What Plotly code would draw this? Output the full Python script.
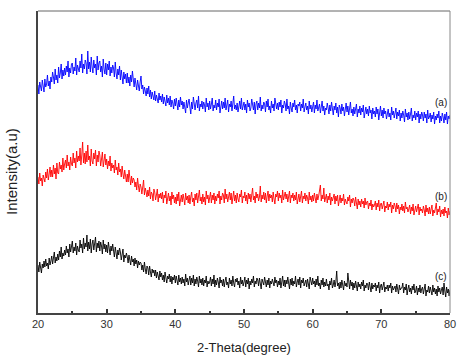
import plotly.graph_objects as go

# 2-theta step (degree) of the recorded patterns, starting at 20 degree
start_deg = 20.0
step_deg = 0.125

# Intensity values (a.u., offset stacking units), 8 per degree
curve_a = [
    228, 219, 231, 224, 222, 233, 226, 221,
    234, 226, 229, 238, 227, 232, 224, 236,
    231, 241, 236, 229, 244, 233, 238, 230,
    246, 235, 240, 249, 234, 243, 237, 245,
    238, 247, 241, 252, 236, 245, 240, 249,
    250, 239, 246, 242, 255, 238, 248, 243,
    241, 252, 245, 259, 240, 249, 244, 253,
    250, 239, 262, 244, 251, 241, 256, 246,
    240, 253, 245, 249, 238, 257, 243, 250,
    252, 241, 247, 236, 254, 244, 239, 250,
    238, 249, 243, 252, 237, 246, 240, 248,
    245, 236, 251, 240, 234, 244, 238, 247,
    233, 243, 237, 229, 241, 234, 239, 230,
    240, 230, 236, 227, 238, 231, 242, 228,
    226, 235, 229, 223, 233, 227, 222, 231,
    237, 224, 228, 219, 226, 222, 217, 225,
    219, 227, 216, 223, 214, 221, 218, 213,
    222, 212, 218, 215, 210, 220, 213, 217,
    211, 219, 209, 216, 212, 207, 218, 210,
    215, 208, 217, 206, 213, 210, 204, 214,
    207, 215, 209, 203, 213, 206, 216, 208,
    212, 204, 211, 207, 200, 213, 205, 210,
    214, 206, 199, 211, 204, 216, 207, 203,
    210, 213, 205, 217, 202, 209, 206, 212,
    204, 211, 208, 201, 215, 206, 210, 203,
    212, 204, 209, 215, 202, 208, 205, 213,
    203, 210, 206, 214, 200, 209, 212, 204,
    211, 205, 215, 203, 208, 213, 201, 209,
    206, 212, 202, 210, 217, 204, 208, 203,
    210, 201, 208, 212, 204, 215, 203, 207,
    211, 203, 209, 200, 213, 206, 210, 202,
    205, 214, 207, 203, 211, 199, 209, 212,
    203, 210, 205, 216, 202, 208, 204, 211,
    209, 201, 212, 206, 214, 203, 207, 200,
    212, 205, 209, 202, 215, 207, 204, 210,
    203, 211, 206, 213, 200, 208, 205, 212,
    209, 202, 214, 204, 207, 199, 211, 205,
    201, 210, 206, 213, 203, 208, 200, 209,
    207, 211, 202, 209, 205, 214, 201, 206,
    210, 203, 207, 199, 212, 204, 208, 201,
    206, 211, 200, 208, 204, 213, 202, 207,
    209, 200, 206, 212, 202, 207, 198, 205,
    203, 210, 205, 199, 208, 202, 211, 204,
    198, 207, 203, 210, 200, 206, 196, 208,
    205, 199, 209, 202, 206, 197, 204, 210,
    201, 207, 198, 205, 211, 200, 204, 197,
    206, 199, 203, 209, 196, 204, 200, 207,
    198, 205, 201, 208, 195, 203, 206, 199,
    204, 197, 207, 200, 203, 194, 205, 199,
    202, 196, 206, 199, 204, 193, 201, 207,
    197, 203, 195, 205, 199, 202, 194, 201,
    204, 196, 200, 193, 206, 198, 202, 195,
    199, 205, 194, 201, 197, 203, 192, 200,
    195, 202, 198, 191, 204, 196, 200, 193,
    201, 194, 199, 205, 192, 198, 195, 202,
    193, 200, 196, 202, 190, 199, 194, 201,
    198, 192, 201, 195, 199, 190, 203, 194,
    196, 200, 191, 198, 194, 201, 189, 197,
    193, 199, 195, 202, 190, 197, 192, 200,
    196, 190, 199, 193, 201, 189, 197, 194,
    198,
]

curve_b = [
    136, 129, 140, 132, 135, 127, 138, 134,
    131, 141, 135, 144, 133, 139, 146, 136,
    143, 136, 148, 139, 145, 134, 150, 140,
    139, 151, 144, 148, 141, 155, 143, 149,
    153, 145, 158, 147, 151, 143, 156, 149,
    147, 160, 150, 155, 145, 162, 151, 157,
    152, 165, 148, 158, 171, 150, 160, 149,
    162, 151, 168, 153, 157, 147, 164, 152,
    149, 160, 154, 163, 147, 158, 151, 162,
    158, 147, 155, 161, 146, 153, 159, 148,
    154, 144, 152, 147, 157, 142, 150, 145,
    148, 140, 153, 143, 146, 138, 150, 141,
    144, 136, 147, 139, 134, 143, 137, 131,
    139, 131, 143, 134, 128, 137, 130, 135,
    133, 126, 131, 123, 135, 127, 121, 129,
    126, 119, 124, 133, 118, 125, 121, 116,
    123, 117, 126, 114, 121, 119, 112, 124,
    121, 113, 118, 124, 111, 119, 115, 120,
    114, 121, 110, 118, 115, 122, 109, 117,
    120, 112, 117, 108, 121, 114, 118, 110,
    116, 109, 119, 112, 121, 107, 115, 118,
    111, 119, 114, 108, 120, 113, 117, 110,
    118, 109, 116, 121, 111, 115, 107, 119,
    113, 120, 110, 117, 123, 112, 116, 109,
    119, 111, 116, 108, 122, 114, 118, 110,
    116, 121, 110, 118, 113, 120, 109, 117,
    112, 119, 115, 122, 109, 117, 113, 120,
    118, 110, 124, 114, 119, 111, 116, 121,
    113, 120, 109, 117, 122, 112, 118, 110,
    120, 114, 111, 119, 116, 123, 110, 117,
    115, 121, 112, 118, 109, 120, 114, 119,
    111, 118, 125, 113, 117, 110, 121, 115,
    119, 112, 116, 127, 111, 118, 114, 121,
    113, 120, 110, 117, 122, 112, 119, 115,
    118, 111, 121, 114, 109, 119, 116, 122,
    112, 120, 115, 118, 110, 123, 113, 117,
    121, 114, 119, 111, 116, 122, 110, 118,
    115, 120, 112, 118, 113, 121, 109, 117,
    119, 111, 116, 122, 110, 117, 114, 120,
    112, 118, 115, 109, 121, 113, 117, 111,
    118, 112, 120, 114, 110, 119, 113, 117,
    121, 128, 112, 118, 114, 125, 111, 116,
    119, 110, 117, 113, 120, 108, 116, 112,
    115, 119, 109, 117, 112, 118, 107, 114,
    118, 110, 115, 112, 119, 108, 114, 111,
    109, 116, 112, 118, 106, 114, 110, 115,
    113, 107, 116, 110, 104, 114, 108, 112,
    106, 114, 109, 112, 105, 115, 108, 111,
    112, 104, 110, 107, 113, 103, 109, 106,
    108, 112, 103, 110, 106, 113, 102, 109,
    110, 104, 108, 112, 101, 107, 105, 111,
    103, 109, 106, 111, 100, 108, 104, 110,
    107, 101, 110, 104, 108, 99, 106, 103,
    109, 102, 107, 100, 111, 104, 106, 101,
    104, 108, 99, 106, 102, 109, 98, 105,
    107, 101, 105, 109, 98, 106, 102, 104,
    100, 107, 103, 97, 108, 101, 105, 99,
    106, 99, 104, 108, 97, 103, 100, 106,
    110, 98, 104, 101, 107, 96, 103, 99,
    104, 97, 106, 100, 102, 95, 105, 98,
    102,
]

curve_c = [
    48, 41, 51, 44, 40, 49, 45, 52,
    46, 54, 47, 50, 44, 55, 48, 52,
    57, 49, 54, 61, 50, 56, 52, 59,
    53, 62, 56, 66, 54, 60, 57, 63,
    58, 67, 60, 64, 56, 69, 61, 65,
    72, 60, 66, 62, 70, 58, 67, 63,
    61, 73, 65, 69, 60, 75, 64, 70,
    66, 78, 62, 71, 64, 74, 60, 69,
    73, 63, 68, 76, 61, 70, 65, 72,
    62, 71, 67, 59, 73, 64, 69, 61,
    68, 60, 71, 63, 58, 67, 62, 69,
    64, 56, 66, 60, 54, 63, 58, 65,
    61, 53, 59, 64, 51, 58, 55, 60,
    56, 50, 58, 52, 48, 57, 51, 54,
    47, 55, 49, 53, 45, 52, 48, 51,
    50, 43, 48, 41, 51, 44, 39, 47,
    45, 38, 47, 41, 36, 44, 40, 43,
    37, 43, 35, 41, 38, 33, 42, 36,
    40, 33, 38, 31, 41, 35, 30, 37,
    34, 39, 31, 37, 29, 36, 33, 38,
    30, 37, 32, 28, 38, 31, 35, 29,
    36, 30, 34, 27, 39, 31, 35, 28,
    33, 37, 28, 35, 30, 38, 27, 34,
    29, 36, 32, 26, 37, 30, 34, 28,
    35, 27, 33, 30, 37, 26, 32, 29,
    31, 36, 27, 34, 29, 38, 26, 33,
    28, 35, 31, 25, 36, 30, 33, 27,
    34, 26, 32, 36, 28, 31, 25, 35,
    29, 33, 27, 37, 30, 26, 34, 31,
    35, 28, 32, 25, 36, 29, 33, 27,
    31, 36, 26, 33, 29, 35, 24, 32,
    28, 34, 30, 37, 26, 32, 29, 35,
    33, 27, 35, 29, 24, 34, 31, 28,
    36, 30, 26, 33, 28, 35, 25, 32,
    29, 34, 31, 27, 36, 30, 33, 26,
    32, 28, 35, 25, 31, 37, 27, 33,
    26, 33, 29, 36, 30, 24, 34, 28,
    35, 27, 32, 29, 37, 26, 31, 34,
    28, 36, 25, 33, 30, 35, 27, 31,
    33, 26, 34, 29, 24, 36, 30, 28,
    35, 29, 32, 26, 34, 28, 37, 27,
    30, 24, 33, 28, 35, 26, 31, 27,
    34, 27, 29, 23, 32, 28, 35, 25,
    28, 33, 26, 31, 42, 27, 30, 24,
    31, 25, 33, 28, 23, 32, 27, 30,
    26, 40, 29, 24, 33, 27, 31, 23,
    30, 25, 32, 27, 22, 31, 26, 29,
    24, 31, 27, 33, 22, 28, 25, 30,
    29, 23, 31, 26, 21, 30, 24, 28,
    26, 30, 22, 28, 25, 31, 20, 27,
    29, 23, 27, 31, 21, 26, 24, 28,
    22, 28, 25, 30, 20, 27, 23, 26,
    27, 21, 29, 24, 19, 28, 23, 25,
    25, 30, 20, 26, 23, 29, 18, 24,
    28, 21, 25, 19, 27, 23, 29, 20,
    22, 27, 18, 25, 21, 28, 20, 24,
    26, 19, 24, 29, 17, 23, 21, 27,
    20, 26, 22, 18, 28, 21, 25, 19,
    24, 17, 27, 21, 25, 19, 23, 26,
    18, 30, 22, 16, 26, 20, 24, 17,
    23,
]

series_names = ["(a)", "(b)", "(c)"]
series_colors = ["#0000FF", "#FF0000", "#000000"]
label_x = [78.7, 78.7, 78.7]
label_y = [211, 117, 37]

x_ticks = [20, 30, 40, 50, 60, 70, 80]

fig = go.Figure()
for name, ys, col in zip(series_names, [curve_a, curve_b, curve_c], series_colors):
    xs = [start_deg + step_deg * i for i in range(len(ys))]
    fig.add_trace(go.Scatter(x=xs, y=ys, mode="lines", name=name,
                             line=dict(color=col, width=0.9), showlegend=False))

for name, lx, ly in zip(series_names, label_x, label_y):
    fig.add_annotation(x=lx, y=ly, text=name, showarrow=False,
                       font=dict(family="Arial, Liberation Sans", size=10, color="#222"),
                       xanchor="center", yanchor="middle")

# axis titles
fig.add_annotation(xref="paper", yref="paper", x=0.5, y=0, yshift=-34,
                   text="2-Theta(degree)", showarrow=False, xanchor="center", yanchor="middle",
                   font=dict(family="Arial, Liberation Sans", size=13, color="#222"))
fig.add_annotation(xref="paper", yref="paper", x=0, y=0.467, xshift=-26,
                   text="Intensity(a.u)", showarrow=False, textangle=-90,
                   xanchor="center", yanchor="middle",
                   font=dict(family="Arial, Liberation Sans", size=15, color="#222"))

# thin top and right frame lines
fig.add_shape(type="line", xref="paper", yref="paper", x0=0, x1=1, y0=1, y1=1,
              line=dict(color="#666", width=1))
fig.add_shape(type="line", xref="paper", yref="paper", x0=1, x1=1, y0=0, y1=1,
              line=dict(color="#888", width=1))

fig.update_layout(
    width=461, height=359,
    margin=dict(l=38, r=11, t=11, b=46, autoexpand=False),
    paper_bgcolor="white", plot_bgcolor="white",
    font=dict(family="Arial, Liberation Sans", color="#333"),
    xaxis=dict(range=[20, 80], tickvals=x_ticks, ticks="inside", ticklen=4,
               tickwidth=1.5, tickcolor="#333", showline=True, linecolor="#444",
               linewidth=2, showgrid=False, zeroline=False, automargin=False,
               tickfont=dict(size=11, color="#333"),
               minor=dict(ticks="inside", dtick=5, tick0=20, ticklen=2, tickcolor="#333")),
    yaxis=dict(range=[0, 302], showticklabels=False, ticks="", showline=True,
               linecolor="#444", linewidth=2, showgrid=False, zeroline=False,
               automargin=False),
)

fig.write_html("out.html", config={"displayModeBar": False},
               post_script="document.body.style.margin='0';document.body.style.overflow='hidden';")
